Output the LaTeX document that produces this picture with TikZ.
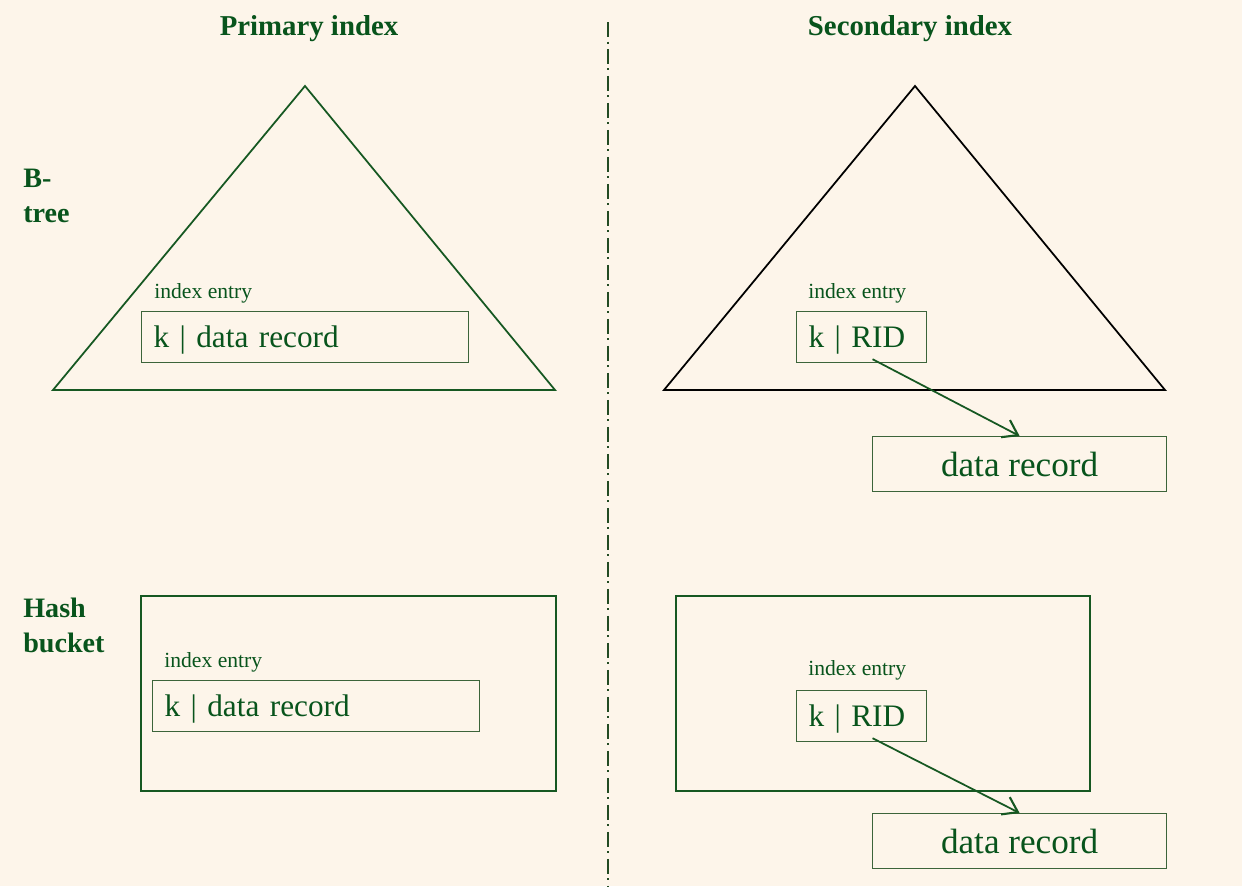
\documentclass[tikz,border=0pt]{standalone}
\usepackage{fontspec}
\setmainfont{Liberation Serif}
\usepackage{tikz}
\usetikzlibrary{arrows.meta}

\definecolor{bgcream}{RGB}{253,245,234}
\definecolor{txtgreen}{RGB}{8,84,28}
\definecolor{linegreen}{RGB}{22,88,34}
\definecolor{boxgreen}{RGB}{60,100,58}
\definecolor{divgreen}{RGB}{35,75,35}

\begin{document}
\begin{tikzpicture}[x=0.02cm,y=-0.02cm,>={Straight Barb[length=8pt,width=11pt,line width=1.2pt]},
      every node/.style={text=txtgreen},
      heading/.style={font=\fontsize{16.4}{20}\selectfont\bfseries,anchor=base,inner sep=0pt},
      rowlabel/.style={font=\fontsize{16}{19.8}\selectfont\bfseries,align=left,anchor=north west,inner sep=0pt},
      tag/.style={font=\fontsize{12.3}{14}\selectfont,anchor=base west,inner sep=0pt},
      entry/.style={draw=boxgreen,line width=0.7pt,font=\fontsize{17.8}{22}\selectfont,align=left,
        anchor=north west,inner xsep=0.24cm,inner ysep=0pt,text depth=0pt,minimum height=1.02cm},
      record/.style={draw=boxgreen,line width=0.7pt,font=\fontsize{20}{24}\selectfont,
        anchor=north west,minimum width=5.88cm,minimum height=1.1cm},
      bucket/.style={draw=linegreen,line width=1.1pt,anchor=north west,minimum width=8.3cm,minimum height=3.9cm},
      link/.style={->,draw=linegreen,line width=1pt}]

    \fill[bgcream] (0,0) rectangle (1242,886);

    % column and row headings
    \node[heading] (prim) at (309,35) {Primary index};
    \node[heading] (sec) at (910,35) {Secondary index};
    \node[rowlabel] (btree) at (23,169) {B-\\tree};
    \node[rowlabel] (hash) at (23,598) {Hash\\bucket};

    \draw[divgreen,line width=1.4pt,dash pattern=on 0.3cm off 0.09cm on 0.04cm off 0.11cm]
      (608,22) -- (608,886);

    % B-tree row
    \draw[linegreen,line width=1pt] (305,86) -- (555,390) -- (53,390) -- cycle;
    \draw[black,line width=1pt] (915,86) -- (1165,390) -- (664,390) -- cycle;

    \node[tag] (t1) at (154,298) {index entry};
    \node[entry,text width=6.06cm] (e1) at (141,311) {k | data record};
    \node[tag] (t2) at (808,298) {index entry};
    \node[entry,text width=2.12cm] (e2) at (796,311) {k | RID};
    \node[record] (r2) at (872,436) {data record};
    \draw[link] ([xshift=0.22cm,yshift=0.08cm]e2.south) -- (r2.north);

    % hash row
    \node[bucket] (b1) at (140,595) {};
    \node[tag] (t3) at (164,667) {index entry};
    \node[entry,text width=6.06cm] (e3) at (152,680) {k | data record};
    \node[bucket,minimum width=8.28cm] (b2) at (675,595) {};
    \node[tag] (t4) at (808,675) {index entry};
    \node[entry,text width=2.12cm] (e4) at (796,690) {k | RID};
    \node[record] (r4) at (872,813) {data record};
    \draw[link] ([xshift=0.22cm,yshift=0.08cm]e4.south) -- (r4.north);
  \end{tikzpicture}
\end{document}
